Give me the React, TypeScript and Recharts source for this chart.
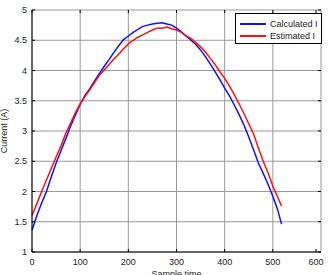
import { LineChart, Line, XAxis, YAxis } from 'recharts';

const sampleTime = [
  0, 10, 20, 30, 40, 50, 60, 70, 80, 90,
  100, 110, 120, 130, 140, 150, 160, 170, 180, 190,
  200, 210, 220, 230, 240, 250, 260, 270, 280, 290,
  300, 310, 320, 330, 340, 350, 360, 370, 380, 390,
  400, 410, 420, 430, 440, 450, 460, 470, 480, 490,
  500, 510, 518,
];

const calculatedI = [
  1.36, 1.6, 1.81, 2.0, 2.24, 2.47, 2.67, 2.87, 3.08, 3.26,
  3.44, 3.59, 3.7, 3.83, 3.95, 4.07, 4.18, 4.3, 4.41, 4.51,
  4.57, 4.63, 4.68, 4.73, 4.75, 4.77, 4.78, 4.79, 4.77, 4.75,
  4.7, 4.64, 4.57, 4.5, 4.43, 4.34, 4.23, 4.11, 3.98, 3.85,
  3.71, 3.58, 3.43, 3.27, 3.1, 2.9, 2.69, 2.47, 2.3, 2.12,
  1.92, 1.7, 1.46,
];

const estimatedI = [
  1.6, 1.8, 2.0, 2.19, 2.38, 2.57, 2.75, 2.96, 3.13, 3.3,
  3.45, 3.57, 3.68, 3.8, 3.92, 4.01, 4.1, 4.19, 4.27, 4.36,
  4.44, 4.5, 4.55, 4.59, 4.63, 4.67, 4.7, 4.7, 4.72, 4.69,
  4.67, 4.63, 4.57, 4.53, 4.46, 4.39, 4.31, 4.2, 4.1, 3.98,
  3.87, 3.74, 3.6, 3.45, 3.29, 3.12, 2.95, 2.72, 2.5, 2.31,
  2.09, 1.91, 1.76,
];

const seriesNames = ['Calculated I', 'Estimated I'];
const seriesColors = ['#1010ff', '#ff1010'];

const xTicks = [0, 100, 200, 300, 400, 500, 600];
const yTicks = [1, 1.5, 2, 2.5, 3, 3.5, 4, 4.5, 5];

const data = sampleTime.map((t, i) => ({
  t,
  calc: calculatedI[i],
  est: estimatedI[i],
}));

// grid drawn as two-point lines through the chart's own scales
const xMin = xTicks[0];
const xMax = xTicks[xTicks.length - 1];
const yMin = yTicks[0];
const yMax = yTicks[yTicks.length - 1];
const vGrid = xTicks.map((v) => [{ t: v, g: yMin }, { t: v, g: yMax }]);
const hGrid = yTicks.map((v) => [{ t: xMin, g: v }, { t: xMax, g: v }]);

const font = '"Liberation Sans", Arial, sans-serif';

const W = 328;
const H = 275;
const M = { top: 10, right: 7, bottom: 0, left: 0 };
const Y_AXIS_W = 32;
const X_AXIS_H = 23;
const plotLeft = M.left + Y_AXIS_W;
const plotRight = W - M.right;
const plotTop = M.top;
const plotBottom = H - M.bottom - X_AXIS_H;

const gridColor = '#999';

// inward ticks, matlab style
const XTick = (props: any) => {
  const { x, payload } = props;
  return (
    <g>
      <path d={`M${x},${plotBottom}v-3M${x},${plotTop}v3`} stroke="#000" strokeWidth={1} fill="none" />
      <text x={x} y={plotBottom + 13} textAnchor="middle" fontSize={9} fill="#222" fontFamily={font}>
        {payload.value}
      </text>
    </g>
  );
};

const YTick = (props: any) => {
  const { y, payload } = props;
  return (
    <g>
      <path d={`M${plotLeft},${y}h3M${plotRight},${y}h-3`} stroke="#000" strokeWidth={1} fill="none" />
      <text x={plotLeft - 5} y={y + 3} textAnchor="end" fontSize={9} fill="#222" fontFamily={font}>
        {payload.value}
      </text>
    </g>
  );
};

const BoxLegend = () => (
  <div
    style={{
      position: 'absolute',
      left: 235,
      top: 13,
      border: '1px solid #000',
      background: '#fff',
      width: 87,
      height: 31,
      boxSizing: 'border-box',
      padding: '4px 0 0 4px',
      fontFamily: font,
      fontSize: 9,
      color: '#222',
      whiteSpace: 'nowrap',
    }}
  >
    {seriesNames.map((name, i) => (
      <div key={name} style={{ display: 'flex', alignItems: 'center', height: 12 }}>
        <span style={{ display: 'inline-block', width: 26, height: 0, borderTop: `2px solid ${seriesColors[i]}`, marginRight: 4 }} />
        <span>{name}</span>
      </div>
    ))}
  </div>
);

export default function App() {
  return (
    <div style={{ position: 'absolute', left: 0, top: 0, width: W, height: H }}>
      <LineChart width={W} height={H} data={data} margin={M}>
        <XAxis
          dataKey="t"
          type="number"
          domain={[xMin, xMax]}
          ticks={xTicks}
          height={X_AXIS_H}
          tickLine={false}
          axisLine={{ stroke: '#000' }}
          tick={<XTick />}
          allowDuplicatedCategory={false}
          label={{ value: 'Sample time', position: 'insideBottom', offset: -2, fontSize: 9, fill: '#222', fontFamily: font }}
        />
        <XAxis xAxisId="top" orientation="top" type="number" domain={[xMin, xMax]} height={0} tick={false} tickLine={false} axisLine={{ stroke: '#000' }} />
        <YAxis
          type="number"
          domain={[yMin, yMax]}
          ticks={yTicks}
          width={Y_AXIS_W}
          tickLine={false}
          axisLine={{ stroke: '#000' }}
          tick={<YTick />}
          label={{ value: 'Current (A)', angle: -90, position: 'insideLeft', offset: 4, fontSize: 9, fill: '#222', fontFamily: font, style: { textAnchor: 'middle' } }}
        />
        <YAxis yAxisId="right" orientation="right" type="number" domain={[yMin, yMax]} width={0} tick={false} tickLine={false} axisLine={{ stroke: '#000' }} />
        {vGrid.map((seg, i) => (
          <Line key={`v${i}`} data={seg} dataKey="g" type="linear" stroke={gridColor} strokeWidth={1} dot={false} activeDot={false} legendType="none" isAnimationActive={false} />
        ))}
        {hGrid.map((seg, i) => (
          <Line key={`h${i}`} data={seg} dataKey="g" type="linear" stroke={gridColor} strokeWidth={1} dot={false} activeDot={false} legendType="none" isAnimationActive={false} />
        ))}
        <Line type="linear" dataKey="calc" name={seriesNames[0]} stroke={seriesColors[0]} strokeWidth={1.5} dot={false} isAnimationActive={false} />
        <Line type="linear" dataKey="est" name={seriesNames[1]} stroke={seriesColors[1]} strokeWidth={1.5} dot={false} isAnimationActive={false} />
      </LineChart>
      <BoxLegend />
    </div>
  );
}
